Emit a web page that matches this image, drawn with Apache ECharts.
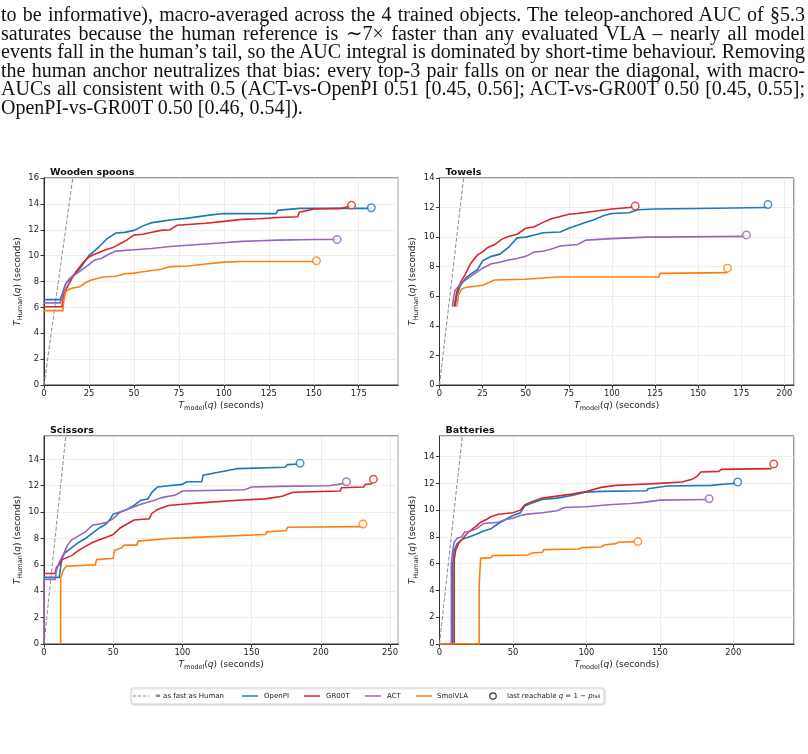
<!DOCTYPE html>
<html>
<head>
<meta charset="utf-8">
<script src="https://cdn.jsdelivr.net/npm/echarts@6/dist/echarts.min.js"></script>
<style>
  html, body { margin: 0; padding: 0; background: #fff; }
  #chart { position: absolute; left: 0; top: 0; width: 808px; height: 754px; }
  .para {
    position: absolute; left: 1px; top: 5px; width: 804px;
    font-family: "Liberation Serif", "DejaVu Serif", serif;
    font-size: 20px; line-height: 18.6px; color: #111; word-spacing: -2.5px;
  }
  .ln { text-align: justify; text-align-last: justify; white-space: nowrap; }
  .ln.last { text-align-last: left; word-spacing: 0; }
</style>
</head>
<body>
<div id="chart"></div>
<div class="para">
  <div class="ln">to be informative), macro-averaged across the 4 trained objects. The teleop-anchored AUC of §5.3</div>
  <div class="ln">saturates because the human reference is ∼7× faster than any evaluated VLA – nearly all model</div>
  <div class="ln">events fall in the human’s tail, so the AUC integral is dominated by short-time behaviour. Removing</div>
  <div class="ln">the human anchor neutralizes that bias: every top-3 pair falls on or near the diagonal, with macro-</div>
  <div class="ln">AUCs all consistent with 0.5 (ACT-vs-OpenPI 0.51 [0.45, 0.56]; ACT-vs-GR00T 0.50 [0.45, 0.55];</div>
  <div class="ln last">OpenPI-vs-GR00T 0.50 [0.46, 0.54]).</div>
</div>
<script>
const panelTitles = ['Wooden spoons', 'Towels', 'Scissors', 'Batteries'];
const modelNames = ['OpenPI', 'GR00T', 'ACT', 'SmolVLA'];
const xTickStep = [25, 25, 50, 50];
const xMaxes = [197, 205.6, 256, 241.3];
const yMaxes = [16, 14, 15.77, 15.54];

// quantile curves, [T_model, T_human]
const spoonsOpenPI = [[0,6.6],[9,6.6],[10,7.0],[12,7.8],[15,8.3],[20,9.0],[25,10.0],[30,10.6],[35,11.3],[40,11.75],[45,11.8],[50,11.95],[55,12.3],[60,12.55],[65,12.65],[70,12.75],[80,12.9],[93,13.15],[100,13.25],[129,13.25],[130,13.5],[142,13.65],[182,13.65]];
const spoonsGR00T = [[0,6.05],[10,6.05],[11,7.0],[13,7.6],[15,8.1],[18,8.8],[22,9.5],[25,9.9],[28,10.1],[30,10.2],[35,10.5],[38,10.6],[42,10.9],[46,11.2],[50,11.6],[55,11.65],[60,11.8],[65,11.95],[70,12.0],[74,12.35],[80,12.4],[90,12.5],[100,12.65],[110,12.8],[120,12.85],[130,12.95],[141,13.0],[142,13.35],[150,13.6],[165,13.65],[166,13.8],[171,13.85]];
const spoonsACT = [[0,6.35],[9,6.35],[10,6.8],[12,7.8],[14,8.2],[17,8.5],[20,8.8],[25,9.3],[28,9.65],[32,9.8],[36,10.1],[40,10.35],[50,10.45],[60,10.55],[70,10.7],[80,10.8],[90,10.9],[100,11.0],[110,11.1],[120,11.15],[130,11.2],[150,11.25],[163,11.25]];
const spoonsSmolVLA = [[0,5.75],[10.5,5.75],[11,6.5],[12,7.2],[14,7.4],[16,7.5],[20,7.6],[23,7.9],[26,8.1],[30,8.25],[33,8.35],[40,8.4],[45,8.6],[50,8.65],[55,8.75],[60,8.85],[65,8.95],[70,9.15],[80,9.2],[90,9.35],[100,9.5],[110,9.55],[151.5,9.55]];

const towelsOpenPI = [[9,5.3],[10,6.0],[12,6.7],[15,7.2],[18,7.5],[22,7.8],[25,8.4],[30,8.7],[35,8.85],[40,9.3],[45,9.95],[50,10.0],[55,10.15],[60,10.3],[70,10.35],[75,10.6],[80,10.8],[85,11.0],[90,11.2],[95,11.45],[100,11.6],[110,11.65],[115,11.85],[125,11.9],[160,11.95],[190,12.0]];
const towelsGR00T = [[8.5,5.3],[10,6.3],[12,6.9],[15,7.5],[18,8.2],[22,8.8],[25,9.0],[28,9.3],[32,9.5],[36,9.85],[40,10.05],[45,10.2],[50,10.6],[55,10.7],[60,11.0],[65,11.25],[70,11.4],[75,11.55],[80,11.6],[90,11.75],[100,11.9],[110,12.0],[113,12.05]];
const towelsACT = [[7.5,5.3],[8,5.8],[9,6.4],[12,6.8],[15,7.1],[20,7.5],[25,7.9],[30,8.2],[35,8.3],[40,8.45],[45,8.55],[50,8.7],[55,9.0],[60,9.05],[65,9.2],[70,9.4],[80,9.5],[85,9.8],[100,9.9],[120,10.0],[178,10.05]];
const towelsSmolVLA = [[10,5.3],[10.5,5.6],[11,6.1],[13,6.5],[15,6.6],[25,6.75],[28,6.9],[32,7.1],[50,7.15],[68,7.3],[127,7.3],[128,7.55],[167,7.6]];

const scissorsOpenPI = [[0,5.05],[11,5.05],[12,5.8],[13,6.5],[15,6.9],[20,7.3],[25,7.7],[30,8.0],[35,8.4],[40,8.8],[45,9.1],[48,9.5],[50,9.85],[55,10.0],[60,10.2],[65,10.5],[70,10.9],[75,11.0],[78,11.5],[82,11.9],[90,12.0],[100,12.1],[103,12.3],[114,12.3],[115,12.8],[125,13.0],[130,13.1],[140,13.3],[174,13.4],[176,13.6],[185,13.65]];
const scissorsGR00T = [[0,5.35],[8,5.35],[9,5.8],[11,6.0],[13,6.4],[20,6.7],[25,7.1],[30,7.4],[35,7.7],[40,7.9],[45,8.1],[50,8.3],[55,8.8],[60,9.1],[65,9.4],[76,9.5],[78,9.9],[82,10.2],[90,10.5],[100,10.6],[113,10.7],[140,10.9],[160,11.0],[172,11.2],[180,11.5],[214,11.6],[215,11.85],[231,11.9],[232,12.1],[237,12.15]];
const scissorsACT = [[0,0],[0,4.9],[8,4.9],[9,5.6],[11,6.2],[14,6.8],[17,7.5],[20,7.9],[25,8.2],[30,8.5],[35,9.0],[45,9.2],[50,9.5],[55,10.0],[60,10.2],[70,10.6],[80,10.9],[85,11.1],[95,11.3],[100,11.6],[145,11.7],[150,11.9],[170,11.95],[206,12.0],[207,12.15],[218,12.2]];
const scissorsSmolVLA = [[12,0],[12,5.0],[14,5.6],[16,5.9],[37,6.0],[38,6.4],[50,6.5],[51,7.1],[56,7.3],[58,7.5],[67,7.5],[68,7.8],[90,8.0],[114,8.1],[115,8.2],[160,8.3],[161,8.5],[175,8.6],[176,8.85],[230,8.9]];

const batteriesOpenPI = [[0,0],[9,0],[9,6.0],[10,7.0],[12,7.5],[15,7.8],[20,8.0],[25,8.2],[30,8.45],[35,8.6],[40,9.0],[45,9.3],[50,9.6],[55,9.8],[58,10.3],[62,10.5],[70,10.8],[80,10.9],[90,11.1],[100,11.35],[110,11.4],[141,11.45],[142,11.6],[155,11.8],[185,11.85],[195,11.95],[202,12.0]];
const batteriesGR00T = [[0,0],[10,0],[10,6.3],[11,7.0],[13,7.5],[16,7.9],[20,8.4],[25,8.8],[28,9.1],[32,9.3],[35,9.5],[40,9.7],[50,9.8],[55,10.0],[58,10.4],[62,10.6],[70,10.9],[80,11.05],[90,11.2],[100,11.4],[110,11.7],[120,11.85],[130,11.9],[150,12.0],[165,12.1],[172,12.3],[175,12.5],[178,12.85],[190,12.9],[192,13.05],[226,13.1]];
const batteriesACT = [[0,0],[8,0],[8,6.0],[9,7.0],[10,7.6],[12,7.9],[15,8.0],[17,8.35],[20,8.4],[25,8.6],[30,9.0],[40,9.1],[45,9.3],[50,9.4],[55,9.6],[60,9.7],[70,9.8],[80,9.95],[85,10.2],[100,10.25],[115,10.4],[130,10.5],[140,10.6],[150,10.75],[183,10.8]];
const batteriesSmolVLA = [[0,0],[27,0],[27,4.4],[28,6.4],[35,6.45],[36,6.6],[60,6.65],[63,6.8],[70,6.85],[71,7.05],[95,7.1],[97,7.2],[110,7.25],[112,7.4],[120,7.5],[122,7.6],[135,7.65]];

// last reachable q = 1 - p_fail, in modelNames order
const spoonsLast = [[182,13.7],[171,13.9],[163,11.25],[151.5,9.6]];
const towelsLast = [[190.5,12.2],[113.5,12.1],[178,10.15],[167,7.9]];
const scissorsLast = [[185,13.7],[238,12.5],[218.5,12.3],[230.5,9.1]];
const batteriesLast = [[203,12.1],[227.5,13.45],[183.5,10.85],[135,7.65]];

const curves = [
  [spoonsOpenPI, spoonsGR00T, spoonsACT, spoonsSmolVLA],
  [towelsOpenPI, towelsGR00T, towelsACT, towelsSmolVLA],
  [scissorsOpenPI, scissorsGR00T, scissorsACT, scissorsSmolVLA],
  [batteriesOpenPI, batteriesGR00T, batteriesACT, batteriesSmolVLA]
];
const lastPoints = [spoonsLast, towelsLast, scissorsLast, batteriesLast];

const colors = ['#1f77b4', '#d62728', '#9467bd', '#ff7f0e'];
const font = 'DejaVu Sans';
const boxes = [
  { left: 44, top: 178, width: 354.3, height: 207 },
  { left: 439.5, top: 178, width: 354.5, height: 207 },
  { left: 44, top: 436, width: 354.3, height: 208 },
  { left: 439.5, top: 436, width: 354.5, height: 208 }
];

const nameRich = {
  i: { fontStyle: 'italic', fontSize: 9, fontFamily: font, color: '#222', verticalAlign: 'middle' },
  s: { fontSize: 6.5, fontFamily: font, color: '#222', verticalAlign: 'bottom' },
  n: { fontSize: 9, fontFamily: font, color: '#222', verticalAlign: 'middle' }
};

const grids = [], xAxes = [], yAxes = [], titles = [], series = [];
boxes.forEach((b, k) => {
  grids.push(Object.assign({ show: true, borderColor: '#333', borderWidth: 1, backgroundColor: 'transparent' }, b));
  titles.push({
    text: panelTitles[k], left: b.left + 1, top: b.top - 15,
    textStyle: { fontFamily: font, fontSize: 9.5, fontWeight: 'bold', color: '#111' }
  });
  const common = {
    gridIndex: k, type: 'value', min: 0,
    axisLine: { show: true, lineStyle: { color: '#333', width: 1 } },
    axisTick: { show: true, length: 3.5, lineStyle: { color: '#333' } },
    splitLine: { show: true, lineStyle: { color: '#e8e8e8', width: 0.8 } },
    axisLabel: { fontFamily: font, fontSize: 8.4, color: '#222', margin: 5, showMaxLabel: false },
    nameLocation: 'middle',
    nameTextStyle: { fontFamily: font, fontSize: 9, color: '#222', lineHeight: 13, rich: nameRich }
  };
  xAxes.push(Object.assign({}, common, {
    max: xMaxes[k], interval: xTickStep[k], nameGap: 14,
    name: '{i|T}{s|model}{n|(}{i|q}{n|) (seconds)}'
  }));
  yAxes.push(Object.assign({}, common, {
    max: yMaxes[k], interval: 2, nameGap: 20, nameRotate: 90,
    axisLabel: Object.assign({}, common.axisLabel, { showMaxLabel: yMaxes[k] % 2 === 0 }),
    name: '{i|T}{s|Human}{n|(}{i|q}{n|) (seconds)}'
  }));
  series.push({
    name: '= as fast as Human', type: 'line', xAxisIndex: k, yAxisIndex: k,
    data: [[0, 0], [yMaxes[k], yMaxes[k]]], symbol: 'none', silent: true,
    lineStyle: { color: '#8c8c8c', width: 1, type: [4, 2] }, z: 1
  });
  curves[k].forEach((c, m) => {
    series.push({
      name: modelNames[m], type: 'line', xAxisIndex: k, yAxisIndex: k,
      data: c, symbol: 'none', color: colors[m],
      lineStyle: { color: colors[m], width: 1.6, join: 'miter' }, z: 3
    });
  });
  series.push({
    name: 'last', type: 'scatter', xAxisIndex: k, yAxisIndex: k,
    symbol: 'circle', symbolSize: 7.5, z: 4,
    data: lastPoints[k].map((p, m) => ({
      value: p, itemStyle: { color: '#fff', borderColor: colors[m], borderWidth: 1.5 }
    }))
  });
});

// legend drawn as graphic elements (matplotlib-style box)
const legendY = 696;
const legendEls = [
  { type: 'rect', shape: { x: 131, y: 688, width: 473, height: 16, r: 2 },
    style: { fill: '#fff', stroke: '#d4d4d4', lineWidth: 1, shadowColor: 'rgba(0,0,0,0.12)', shadowBlur: 2, shadowOffsetX: 1, shadowOffsetY: 1 } },
  { type: 'line', shape: { x1: 133, y1: legendY, x2: 149, y2: legendY },
    style: { stroke: '#8c8c8c', lineWidth: 1, lineDash: [3, 2] } }
];
const legendLabels = ['= as fast as Human'].concat(modelNames);
const iconX = [133, 242, 304, 365, 416];
const textX = [155, 264, 326, 387, 437];
modelNames.forEach((n, m) => {
  legendEls.push({ type: 'line', shape: { x1: iconX[m + 1], y1: legendY, x2: iconX[m + 1] + 16, y2: legendY },
    style: { stroke: colors[m], lineWidth: 1.5 } });
});
legendLabels.forEach((t, j) => {
  legendEls.push({ type: 'text', x: textX[j], y: legendY,
    style: { text: t, fontFamily: font, fontSize: 7, fill: '#222', verticalAlign: 'middle' } });
});
legendEls.push({ type: 'circle', shape: { cx: 493, cy: legendY, r: 3.2 },
  style: { fill: '#fff', stroke: '#333', lineWidth: 1.2 } });
legendEls.push({ type: 'text', x: 507, y: legendY,
  style: {
    text: 'last reachable {i|q} = 1 − {i|p}{s|fail}', fontFamily: font, fontSize: 7, fill: '#222', verticalAlign: 'middle',
    rich: {
      i: { fontStyle: 'italic', fontSize: 7, fontFamily: font, fill: '#222' },
      s: { fontSize: 5, fontFamily: font, fill: '#222', verticalAlign: 'bottom' }
    }
  } });

const chart = echarts.init(document.getElementById('chart'), null, { renderer: 'canvas' });
chart.setOption({
  animation: false,
  backgroundColor: '#fff',
  title: titles,
  grid: grids,
  xAxis: xAxes,
  yAxis: yAxes,
  graphic: { elements: legendEls },
  series: series
});
</script>
</body>
</html>
